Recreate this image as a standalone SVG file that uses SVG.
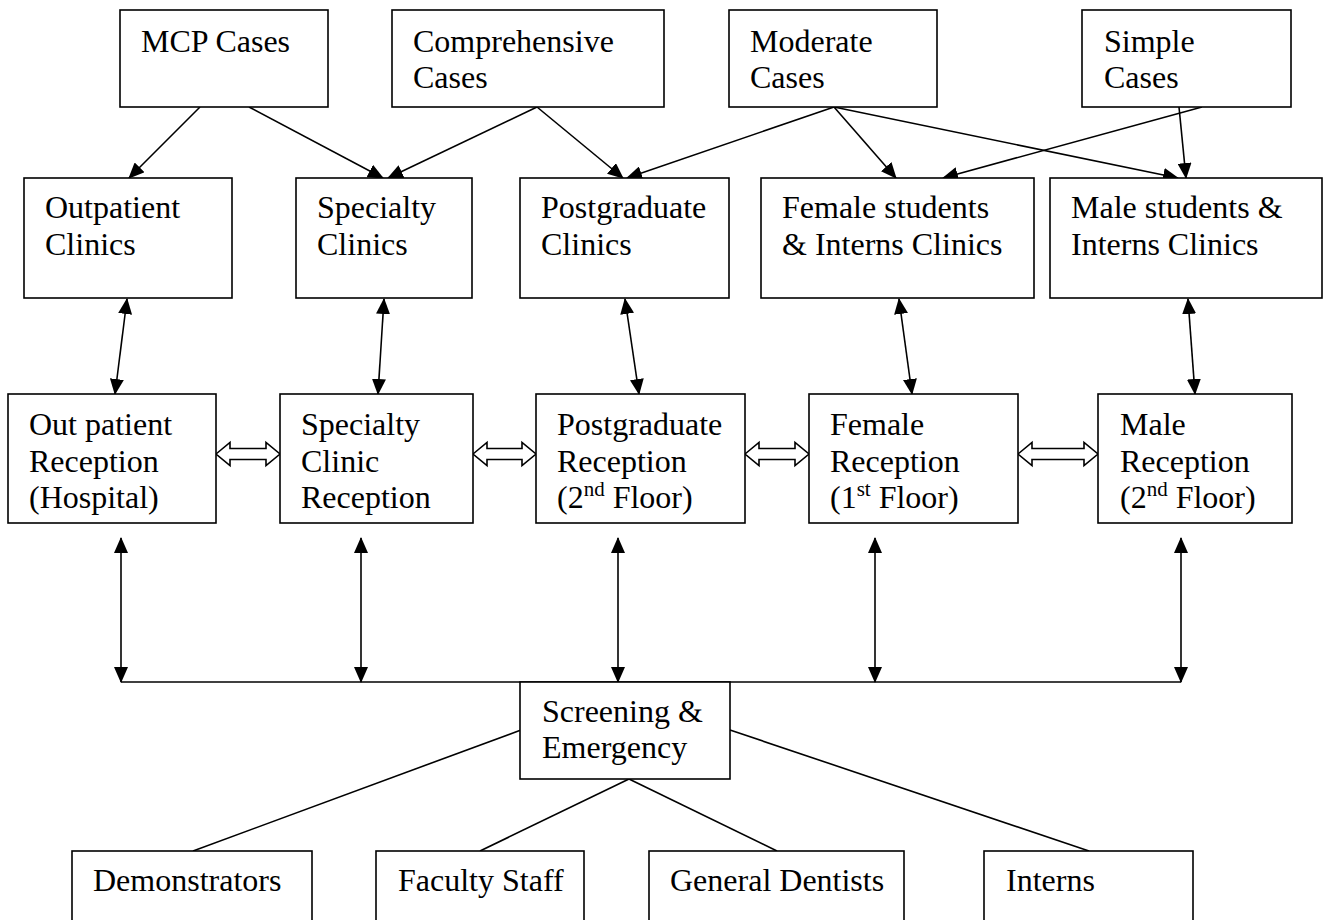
<svg xmlns="http://www.w3.org/2000/svg" width="1325" height="920" viewBox="0 0 1325 920">
<style>
.box{fill:#fff;stroke:#000;stroke-width:1.6}
.t{font-family:"Liberation Serif","Times New Roman",serif;font-size:32px;fill:#000}
.c{stroke:#000;stroke-width:1.6;fill:none}
.a{marker-end:url(#ah)}
.d{marker-start:url(#ah);marker-end:url(#ah)}
.h{fill:#fff;stroke:#000;stroke-width:1.6}
</style>
<defs>
<marker id="ah" viewBox="0 0 16 14" refX="15" refY="7" markerWidth="16" markerHeight="14" markerUnits="userSpaceOnUse" orient="auto-start-reverse">
<path d="M0,0 L16,7 L0,14 z" fill="#000"/>
</marker>
</defs>
<rect width="1325" height="920" fill="#fff"/>
<g id="connectors">
<line class="c a" x1="200" y1="107" x2="129" y2="178"/>
<line class="c a" x1="249" y1="107" x2="383" y2="178"/>
<line class="c a" x1="537" y1="107" x2="388" y2="178"/>
<line class="c a" x1="537" y1="107" x2="623" y2="178"/>
<line class="c a" x1="834" y1="107" x2="627" y2="178"/>
<line class="c a" x1="834" y1="107" x2="896" y2="178"/>
<line class="c a" x1="834" y1="107" x2="1178" y2="178"/>
<line class="c a" x1="1202" y1="107" x2="943" y2="178"/>
<line class="c a" x1="1179" y1="107" x2="1186" y2="178"/>
<line class="c d" x1="127" y1="299" x2="115" y2="394"/>
<line class="c d" x1="384" y1="299" x2="378" y2="394"/>
<line class="c d" x1="625" y1="299" x2="639" y2="394"/>
<line class="c d" x1="899" y1="299" x2="912" y2="394"/>
<line class="c d" x1="1188" y1="299" x2="1195" y2="394"/>
<line class="c d" x1="121" y1="538" x2="121" y2="682"/>
<line class="c d" x1="361" y1="538" x2="361" y2="682"/>
<line class="c d" x1="618" y1="538" x2="618" y2="682"/>
<line class="c d" x1="875" y1="538" x2="875" y2="682"/>
<line class="c d" x1="1181" y1="538" x2="1181" y2="682"/>
<line class="c" x1="121" y1="682" x2="1181" y2="682"/>
<line class="c" x1="521" y1="730" x2="193" y2="851"/>
<line class="c" x1="629" y1="779" x2="480" y2="851"/>
<line class="c" x1="629" y1="779" x2="777" y2="851"/>
<line class="c" x1="730" y1="730" x2="1089" y2="851"/>
<path class="h" d="M216,454 L230,442.5 L230,448.5 L266,448.5 L266,442.5 L280,454 L266,465.5 L266,459.5 L230,459.5 L230,465.5 Z"/>
<path class="h" d="M473,454 L487,442.5 L487,448.5 L522,448.5 L522,442.5 L536,454 L522,465.5 L522,459.5 L487,459.5 L487,465.5 Z"/>
<path class="h" d="M745,454 L759,442.5 L759,448.5 L795,448.5 L795,442.5 L809,454 L795,465.5 L795,459.5 L759,459.5 L759,465.5 Z"/>
<path class="h" d="M1018,454 L1032,442.5 L1032,448.5 L1084,448.5 L1084,442.5 L1098,454 L1084,465.5 L1084,459.5 L1032,459.5 L1032,465.5 Z"/>
</g>
<g id="mcp"><rect class="box" x="120" y="10" width="208" height="97"/><text class="t" x="141" y="52">MCP Cases</text></g>
<g id="comprehensive"><rect class="box" x="392" y="10" width="272" height="97"/><text class="t" x="413" y="52">Comprehensive</text><text class="t" x="413" y="88">Cases</text></g>
<g id="moderate"><rect class="box" x="729" y="10" width="208" height="97"/><text class="t" x="750" y="52">Moderate</text><text class="t" x="750" y="88">Cases</text></g>
<g id="simple"><rect class="box" x="1082" y="10" width="209" height="97"/><text class="t" x="1104" y="52">Simple</text><text class="t" x="1104" y="88">Cases</text></g>
<g id="outpatient-clinics"><rect class="box" x="24" y="178" width="208" height="120"/><text class="t" x="45" y="218">Outpatient</text><text class="t" x="45" y="255">Clinics</text></g>
<g id="specialty-clinics"><rect class="box" x="296" y="178" width="176" height="120"/><text class="t" x="317" y="218">Specialty</text><text class="t" x="317" y="255">Clinics</text></g>
<g id="postgraduate-clinics"><rect class="box" x="520" y="178" width="209" height="120"/><text class="t" x="541" y="218">Postgraduate</text><text class="t" x="541" y="255">Clinics</text></g>
<g id="female-clinics"><rect class="box" x="761" y="178" width="273" height="120"/><text class="t" x="782" y="218">Female students</text><text class="t" x="782" y="255">&amp; Interns Clinics</text></g>
<g id="male-clinics"><rect class="box" x="1050" y="178" width="272" height="120"/><text class="t" x="1071" y="218">Male students &amp;</text><text class="t" x="1071" y="255">Interns Clinics</text></g>
<g id="outpatient-reception"><rect class="box" x="8" y="394" width="208" height="129"/><text class="t" x="29" y="435">Out patient</text><text class="t" x="29" y="472">Reception</text><text class="t" x="29" y="508">(Hospital)</text></g>
<g id="specialty-reception"><rect class="box" x="280" y="394" width="193" height="129"/><text class="t" x="301" y="435">Specialty</text><text class="t" x="301" y="472">Clinic</text><text class="t" x="301" y="508">Reception</text></g>
<g id="postgraduate-reception"><rect class="box" x="536" y="394" width="209" height="129"/><text class="t" x="557" y="435">Postgraduate</text><text class="t" x="557" y="472">Reception</text><text class="t" x="557" y="508">(2<tspan font-size="21" dy="-12">nd</tspan><tspan dy="12"> Floor)</tspan></text></g>
<g id="female-reception"><rect class="box" x="809" y="394" width="209" height="129"/><text class="t" x="830" y="435">Female</text><text class="t" x="830" y="472">Reception</text><text class="t" x="830" y="508">(1<tspan font-size="21" dy="-12">st</tspan><tspan dy="12"> Floor)</tspan></text></g>
<g id="male-reception"><rect class="box" x="1098" y="394" width="194" height="129"/><text class="t" x="1120" y="435">Male</text><text class="t" x="1120" y="472">Reception</text><text class="t" x="1120" y="508">(2<tspan font-size="21" dy="-12">nd</tspan><tspan dy="12"> Floor)</tspan></text></g>
<g id="screening"><rect class="box" x="520" y="682" width="210" height="97"/><text class="t" x="542" y="722">Screening &amp;</text><text class="t" x="542" y="758">Emergency</text></g>
<g id="demonstrators"><rect class="box" x="72" y="851" width="240" height="80"/><text class="t" x="93" y="891">Demonstrators</text></g>
<g id="faculty"><rect class="box" x="376" y="851" width="208" height="80"/><text class="t" x="398" y="891">Faculty Staff</text></g>
<g id="dentists"><rect class="box" x="649" y="851" width="255" height="80"/><text class="t" x="670" y="891">General Dentists</text></g>
<g id="interns"><rect class="box" x="984" y="851" width="209" height="80"/><text class="t" x="1006" y="891">Interns</text></g>
</svg>
